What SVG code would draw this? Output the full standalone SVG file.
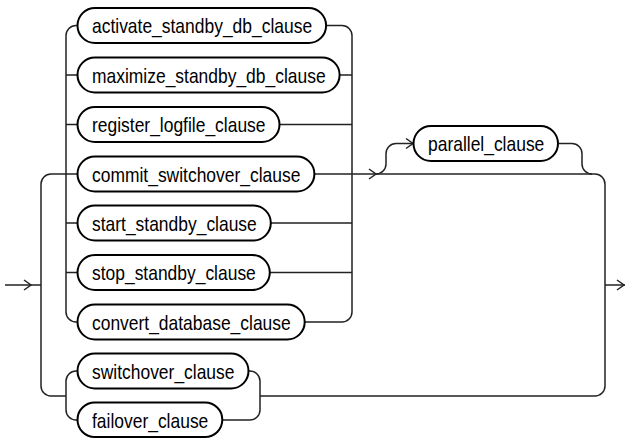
<svg xmlns="http://www.w3.org/2000/svg" xmlns:xlink="http://www.w3.org/1999/xlink" width="626" height="438" viewBox="0 0 626 438">
<style>
.pill{fill:#fff;stroke:#000;stroke-width:2}
.lbl{font-family:"Liberation Sans",Arial,sans-serif;font-size:21px;fill:#000}
.c{fill:none;stroke:#222;stroke-width:1.5}
</style>
<defs>
<path id="ah" d="M-7,-5 L0,0 L-7,5" fill="none" stroke="#222" stroke-width="1.5"/>
</defs>
<rect width="626" height="438" fill="#fff"/>
<g id="connectors">
<path class="c" d="M5,285 H41"/>
<use xlink:href="#ah" x="31" y="285"/>
<path class="c" d="M51,174 A10,10 0 0 0 41,184 V386 A10,10 0 0 0 51,396 H66"/>
<path class="c" d="M51,174 H78"/>
<path class="c" d="M78,25.5 H76 A10,10 0 0 0 66,35.5 V312 A10,10 0 0 0 76,322 H78"/>
<path class="c" d="M66,75 H78 M66,124.5 H78 M66,223 H78 M66,272.5 H78"/>
<path class="c" d="M326,25.5 H342 A10,10 0 0 1 352,35.5 V312 A10,10 0 0 1 342,322 H305"/>
<path class="c" d="M339,75 H352 M279,124.5 H352 M270,223 H352 M269,272.5 H352"/>
<path class="c" d="M314,174 H595"/>
<use xlink:href="#ah" x="376" y="174"/>
<path class="c" d="M376,174 A10,10 0 0 0 386,164 V153.5 A10,10 0 0 1 396,143.5 H413"/>
<use xlink:href="#ah" x="413" y="143.5"/>
<path class="c" d="M558,143.5 H572 A10,10 0 0 1 582,153.5 V164 A10,10 0 0 0 592,174"/>
<path class="c" d="M595,174 A10,10 0 0 1 605,184 V386 A10,10 0 0 1 595,396 H260"/>
<path class="c" d="M605,285 H625"/>
<use xlink:href="#ah" x="624" y="285"/>
<path class="c" d="M78,371 H76 A10,10 0 0 0 66,381 V410 A10,10 0 0 0 76,420 H78"/>
<path class="c" d="M248,371 H250 A10,10 0 0 1 260,381 V410 A10,10 0 0 1 250,420 H222"/>
</g>
<g id="activate_standby_db_clause">
<rect class="pill" x="77.5" y="8" width="248.6" height="35" rx="17.5"/>
<text class="lbl" x="92" y="33" textLength="220.1" lengthAdjust="spacingAndGlyphs">activate_standby_db_clause</text>
</g>
<g id="maximize_standby_db_clause">
<rect class="pill" x="77.5" y="57.5" width="262.1" height="35" rx="17.5"/>
<text class="lbl" x="92" y="82.5" textLength="233.6" lengthAdjust="spacingAndGlyphs">maximize_standby_db_clause</text>
</g>
<g id="register_logfile_clause">
<rect class="pill" x="77.5" y="107" width="202" height="35" rx="17.5"/>
<text class="lbl" x="92" y="132" textLength="173.5" lengthAdjust="spacingAndGlyphs">register_logfile_clause</text>
</g>
<g id="commit_switchover_clause">
<rect class="pill" x="77.5" y="156.5" width="236.9" height="35" rx="17.5"/>
<text class="lbl" x="92" y="181.5" textLength="208.4" lengthAdjust="spacingAndGlyphs">commit_switchover_clause</text>
</g>
<g id="start_standby_clause">
<rect class="pill" x="77.5" y="205.5" width="193.3" height="35" rx="17.5"/>
<text class="lbl" x="92" y="230.5" textLength="164.8" lengthAdjust="spacingAndGlyphs">start_standby_clause</text>
</g>
<g id="stop_standby_clause">
<rect class="pill" x="77.5" y="255" width="192.3" height="35" rx="17.5"/>
<text class="lbl" x="92" y="280" textLength="163.8" lengthAdjust="spacingAndGlyphs">stop_standby_clause</text>
</g>
<g id="convert_database_clause">
<rect class="pill" x="77.5" y="304.5" width="227.2" height="35" rx="17.5"/>
<text class="lbl" x="92" y="329.5" textLength="198.7" lengthAdjust="spacingAndGlyphs">convert_database_clause</text>
</g>
<g id="switchover_clause">
<rect class="pill" x="77.5" y="353.5" width="171" height="35" rx="17.5"/>
<text class="lbl" x="92" y="378.5" textLength="142.5" lengthAdjust="spacingAndGlyphs">switchover_clause</text>
</g>
<g id="failover_clause">
<rect class="pill" x="77.5" y="402.5" width="144.8" height="34.5" rx="17.25"/>
<text class="lbl" x="92" y="427.5" textLength="116.3" lengthAdjust="spacingAndGlyphs">failover_clause</text>
</g>
<g id="parallel_clause">
<rect class="pill" x="413.5" y="126" width="144.5" height="35" rx="17.5"/>
<text class="lbl" x="428" y="151" textLength="116.3" lengthAdjust="spacingAndGlyphs">parallel_clause</text>
</g>
</svg>
